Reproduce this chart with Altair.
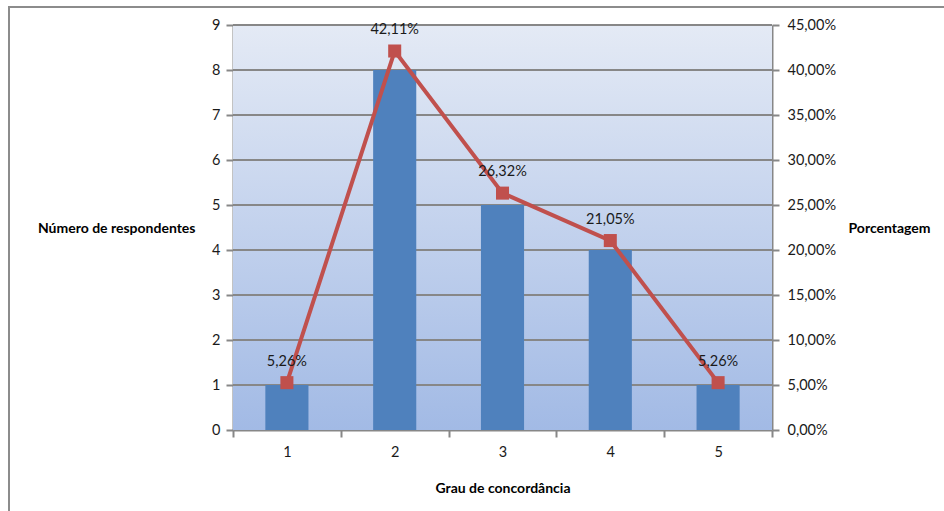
import altair as alt
import pandas as pd

# Respostas por grau de concordância
categorias = ["1", "2", "3", "4", "5"]
respondentes = [1, 8, 5, 4, 1]
porcentagens = [0.0526, 0.4211, 0.2632, 0.2105, 0.0526]
rotulos = ["5,26%", "42,11%", "26,32%", "21,05%", "5,26%"]
linhas_grade = [1, 2, 3, 4, 5, 6, 7, 8, 9]

df = pd.DataFrame({"grau": categorias, "n": respondentes, "pct": porcentagens, "rotulo": rotulos})
grade = pd.DataFrame({"v": linhas_grade})
fundo = pd.DataFrame({"k": [0]})

W, H = 539, 405
FONT = "Lato"
GRAY = "#878787"
TXT = "#1a1a1a"
LBL = 14.5
TTL = 14

escala_x = alt.Scale(domain=categorias, paddingInner=0, paddingOuter=0)
escala_n = alt.Scale(domain=[0, 9], nice=False)
escala_pct = alt.Scale(domain=[0, 0.45], nice=False)

# plot area background: vertical gradient
gradiente = alt.Gradient(
    gradient="linear",
    stops=[alt.GradientStop(color="#e4eaf5", offset=0),
           alt.GradientStop(color="#a2bae5", offset=1)],
    x1=0, x2=0, y1=0, y2=1,
)
bg = alt.Chart(fundo).mark_rect(fill=gradiente).encode(
    x=alt.value(0), x2=alt.value(W), y=alt.value(0), y2=alt.value(H)
)

# outer chart frame
moldura = alt.Chart(fundo).mark_rect(fill=None, stroke="#8c8c8c", strokeWidth=2).encode(
    x=alt.value(-224), x2=alt.value(W + 180), y=alt.value(-18), y2=alt.value(H + 120)
)

regras = alt.Chart(grade).mark_rule(color=GRAY, strokeWidth=2).encode(
    y=alt.Y("v:Q", scale=escala_n, axis=None)
)

barras = alt.Chart(df).mark_bar(color="#4f81bd", width=alt.RelativeBandSize(0.4)).encode(
    x=alt.X("grau:N", sort=categorias, scale=escala_x,
            axis=alt.Axis(title="Grau de concordância", labelAngle=0, tickBand="extent",
                          tickSize=7, tickWidth=2, tickColor=GRAY, domainColor=GRAY,
                          domainWidth=2, labelPadding=8, labelFontSize=LBL, labelFont=FONT,
                          labelColor=TXT, titleFont=FONT, titleFontSize=TTL,
                          titleFontWeight="bold", titleColor="#000", titleY=58,
                          titleBaseline="middle")),
    y=alt.Y("n:Q", scale=escala_n,
            axis=alt.Axis(title="Número de respondentes", values=list(range(10)), grid=False,
                          tickSize=7, tickWidth=2, tickColor=GRAY, domainColor=GRAY,
                          domainWidth=2, labelPadding=6, labelFontSize=LBL, labelFont=FONT,
                          labelColor=TXT, titleAngle=0, titleAlign="right",
                          titleBaseline="middle", titleX=-38, titleY=203, titleFont=FONT,
                          titleFontSize=TTL, titleFontWeight="bold", titleColor="#000")),
)

linha = alt.Chart(df).mark_line(color="#c0504d", strokeWidth=4).encode(
    x=alt.X("grau:N", sort=categorias, scale=escala_x),
    y=alt.Y("pct:Q", scale=escala_pct,
            axis=alt.Axis(title="Porcentagem", orient="right", format=".2%",
                          labelExpr="replace(datum.label, '.', ',')",
                          values=[0, 0.05, 0.10, 0.15, 0.20, 0.25, 0.30, 0.35, 0.40, 0.45],
                          grid=False, tickSize=7, tickWidth=2, tickColor=GRAY,
                          domainColor=GRAY, domainWidth=2, labelPadding=8,
                          labelFontSize=LBL, labelFont=FONT, labelColor=TXT, titleAngle=0,
                          titleAlign="left", titleBaseline="middle", titleX=76, titleY=203,
                          titleFont=FONT, titleFontSize=TTL, titleFontWeight="bold",
                          titleColor="#000")),
)

pontos = alt.Chart(df).mark_point(shape="square", filled=True, size=170, color="#c0504d",
                                  opacity=1).encode(
    x=alt.X("grau:N", sort=categorias, scale=escala_x),
    y=alt.Y("pct:Q", scale=escala_pct, axis=None),
)

textos = alt.Chart(df).mark_text(dy=-21, fontSize=LBL, font=FONT, color=TXT,
                                 baseline="middle").encode(
    x=alt.X("grau:N", sort=categorias, scale=escala_x),
    y=alt.Y("pct:Q", scale=escala_pct, axis=None),
    text="rotulo:N",
)

chart = alt.layer(
    moldura, bg, regras, barras, linha, pontos, textos
).resolve_scale(y="independent").properties(
    width=W, height=H,
    autosize=alt.AutoSizeParams(type="none"),
    padding={"left": 233, "top": 25, "right": 172, "bottom": 81},
).configure_view(stroke=None).configure(background="white")

chart.save("out.html", embed_options={"renderer": "svg", "actions": False})
